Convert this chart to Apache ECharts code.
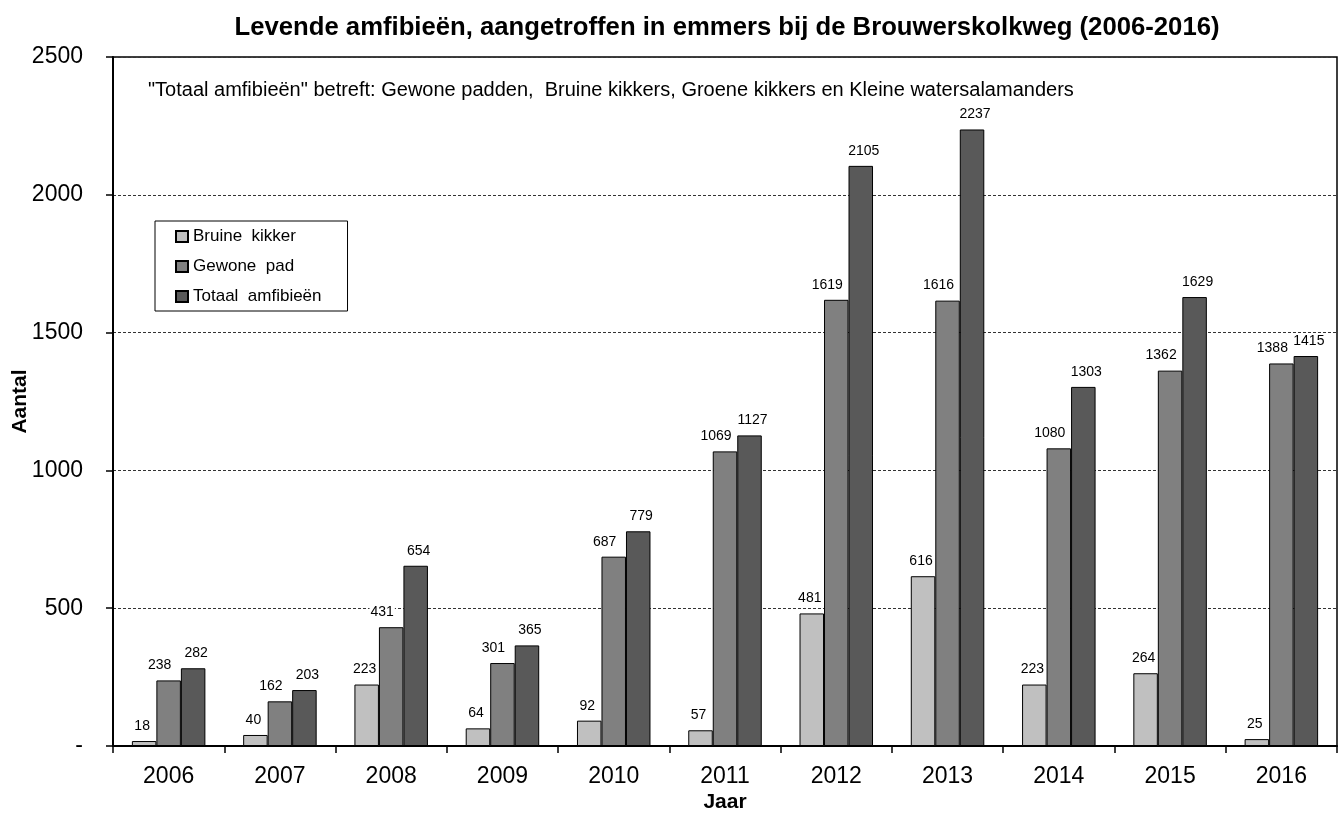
<!DOCTYPE html>
<html>
<head>
<meta charset="utf-8">
<style>
  html, body { margin: 0; padding: 0; background: #fff; }
  #chart { width: 1341px; height: 821px; }
</style>
<script src="https://cdn.jsdelivr.net/npm/echarts@6/dist/echarts.min.js"></script>
</head>
<body>
<div id="chart"></div>
<script>
const years = ['2006', '2007', '2008', '2009', '2010', '2011', '2012', '2013', '2014', '2015', '2016']
const bruineKikker = [18, 40, 223, 64, 92, 57, 481, 616, 223, 264, 25]
const gewonePad = [238, 162, 431, 301, 687, 1069, 1619, 1616, 1080, 1362, 1388]
const totaalAmfibieen = [282, 203, 654, 365, 779, 1127, 2105, 2237, 1303, 1629, 1415]
const yTicks = [0, 500, 1000, 1500, 2000, 2500]

const font = '"Liberation Sans", Arial, sans-serif'

// labels in the original sit a little off-centre, per series
const makeSeries = (name, data, color, dx) => ({
  name,
  type: 'bar',
  data,
  barWidth: 24.5,
  barGap: '0%',
  itemStyle: { color, borderColor: '#000', borderWidth: 1 },
  label: {
    show: true,
    position: 'top',
    distance: 7,
    offset: [dx, 0],
    color: '#000',
    fontSize: 14,
    fontFamily: font,
    backgroundColor: '#fff',
    padding: [1, 1],
  },
  emphasis: { disabled: true },
})

const chart = echarts.init(document.getElementById('chart'))
chart.setOption({
  animation: false,
  textStyle: { fontFamily: font },
  title: {
    text: 'Levende amfibieën, aangetroffen in emmers bij de Brouwerskolkweg (2006-2016)',
    left: 722,
    textAlign: 'center',
    top: 10,
    textStyle: { fontFamily: font, fontSize: 25.7, fontWeight: 'bold', color: '#000' },
  },
  graphic: [
    {
      type: 'text',
      left: 148,
      top: 80,
      style: {
        text: '"Totaal amfibieën" betreft: Gewone padden,  Bruine kikkers, Groene kikkers en Kleine watersalamanders',
        font: '20px ' + font,
        fill: '#000',
      },
    },
  ],
  legend: {
    orient: 'vertical',
    left: 155,
    top: 221,
    padding: [7, 26, 6, 20],
    itemGap: 13,
    itemWidth: 12,
    itemHeight: 11,
    icon: 'rect',
    borderColor: '#000',
    borderWidth: 1,
    backgroundColor: '#fff',
    textStyle: { fontFamily: font, fontSize: 17, color: '#000' },
    formatter: (name) => name.replace(' ', '  '),
    data: ['Bruine kikker', 'Gewone pad', 'Totaal amfibieën'],
  },
  grid: {
    left: 113,
    right: 4,
    top: 57,
    bottom: 75,
    outerBoundsMode: 'none',
    containLabel: false,
    show: true,
    borderColor: '#000',
    borderWidth: 1.5,
    backgroundColor: 'transparent',
  },
  xAxis: {
    type: 'category',
    data: years,
    name: 'Jaar',
    nameLocation: 'middle',
    nameGap: 46,
    nameMoveOverlap: false,
    nameTextStyle: { fontFamily: font, fontSize: 21, fontWeight: 'bold', color: '#000' },
    axisLine: { lineStyle: { color: '#000', width: 2 } },
    axisTick: { show: true, length: 7, lineStyle: { color: '#000', width: 1.5 } },
    axisLabel: { color: '#000', fontSize: 23, fontFamily: font, margin: 19 },
  },
  yAxis: {
    type: 'value',
    min: yTicks[0],
    max: yTicks[yTicks.length - 1],
    interval: 500,
    name: 'Aantal',
    nameLocation: 'middle',
    nameGap: 82,
    nameMoveOverlap: false,
    nameTextStyle: { fontFamily: font, fontSize: 21, fontWeight: 'bold', color: '#000' },
    axisLine: { show: true, lineStyle: { color: '#000', width: 2 } },
    axisTick: { show: true, length: 7, lineStyle: { color: '#000', width: 1.5 } },
    axisLabel: {
      color: '#000',
      fontSize: 23,
      fontFamily: font,
      margin: 30,
      formatter: (v) => (v === 0 ? '-' : String(v)),
    },
    splitLine: { show: true, lineStyle: { color: '#333', width: 1, type: [3, 2] } },
  },
  series: [
    makeSeries('Bruine kikker', bruineKikker, '#c0c0c0', -2),
    makeSeries('Gewone pad', gewonePad, '#808080', -9),
    makeSeries('Totaal amfibieën', totaalAmfibieen, '#595959', 3),
  ],
})
</script>
</body>
</html>
